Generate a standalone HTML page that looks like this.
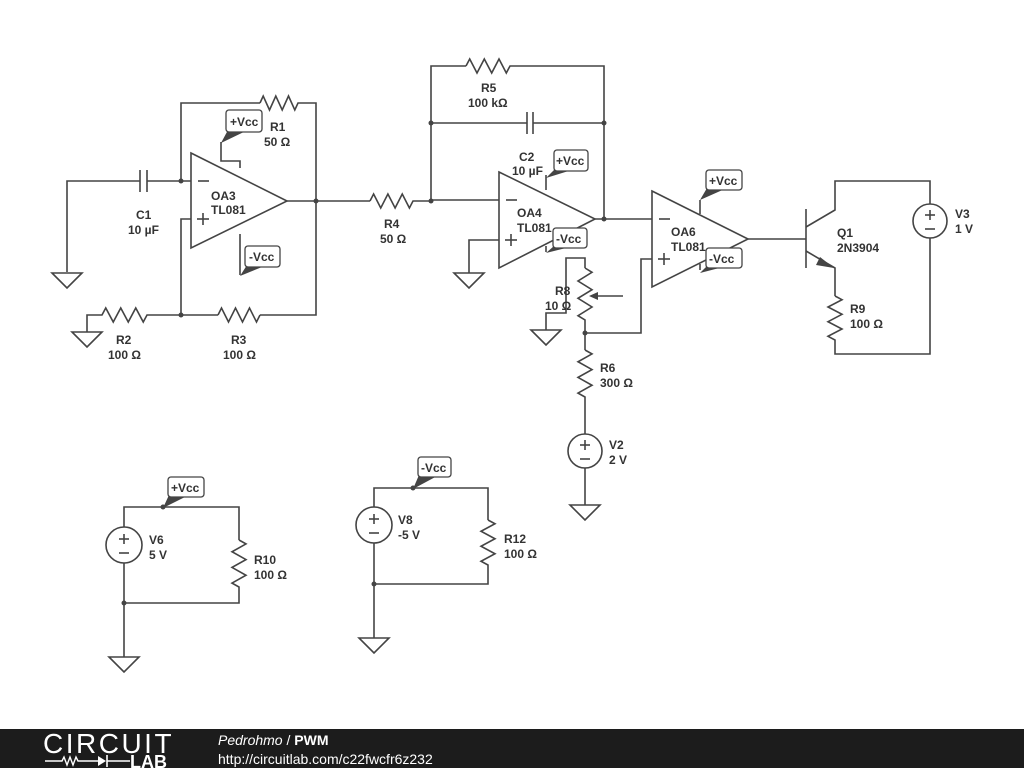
<!DOCTYPE html>
<html><head><meta charset="utf-8"><style>
html,body{margin:0;padding:0;background:#fff;width:1024px;height:768px;overflow:hidden}
svg{display:block}
text{font-family:"Liberation Sans",sans-serif;font-size:12px;font-weight:bold;fill:#333}
.w{fill:none;stroke:#444;stroke-width:1.6}
.d{fill:#444}
.lb rect{fill:#fff;stroke:#444;stroke-width:1.3}
</style></head><body>
<svg width="1024" height="768" viewBox="0 0 1024 768">
<!-- OA3 section -->
<g class="w">
<polyline points="67,272 67,181 140,181"/><line x1="140" y1="170" x2="140" y2="192"/><line x1="147" y1="170" x2="147" y2="192"/>
<polyline points="147,181 191,181"/>
<polyline points="181,181 181,103 260,103"/>
<polyline points="260,103 263.2,96 269.5,110 275.8,96 282.2,110 288.5,96 294.8,110 298,103 316,103 316,315 260,315"/>
<polygon points="191,153 287,201 191,248"/>
<polyline points="287,201 370,201"/>
<polyline points="191,219 181,219 181,315 218,315"/>
<polyline points="218,315 221.5,308 228.5,322 235.5,308 242.5,322 249.5,308 256.5,322 260,315"/>
<polyline points="181,315 147,315 143.25,322 135.75,308 128.25,322 120.75,308 113.25,322 105.75,308 102,315 87,315 87,332"/>
<polyline points="221,142 221,161 240,161 240,168"/>
<polyline points="240,234 240,275"/>
<polygon points="52,273 82,273 67,288"/><polygon points="72,332 102,332 87,347"/>
<line x1="198" y1="181" x2="209" y2="181"/><line x1="197" y1="219" x2="209" y2="219"/><line x1="203" y1="213" x2="203" y2="225"/>
</g>
<g class="d"><circle cx="181" cy="181" r="2.5"/><circle cx="181" cy="315" r="2.5"/><circle cx="316" cy="201" r="2.5"/></g>

<!-- OA4 section -->
<g class="w">
<polyline points="370,201 373.6,194 380.75,208 387.9,194 395.1,208 402.25,194 409.4,208 413,201 431,201"/>
<polyline points="431,200 499,200"/>
<polyline points="431,201 431,66 466,66"/>
<polyline points="466,66 469.7,59 477,73 484.3,59 491.7,73 499,59 506.3,73 510,66 604,66 604,219"/>
<polyline points="431,123 527,123"/><polyline points="533,123 604,123"/>
<line x1="527" y1="112" x2="527" y2="134"/><line x1="533" y1="112" x2="533" y2="134"/>
<polygon points="499,172 595,219 499,268"/>
<polyline points="499,240 469,240 469,273"/><polygon points="454,273 484,273 469,288"/>
<polyline points="546,175 546,190"/>
<polyline points="546,246 546,252"/>
<polyline points="595,219 652,219"/>
<line x1="506" y1="200" x2="517" y2="200"/><line x1="505" y1="240" x2="517" y2="240"/><line x1="511" y1="234" x2="511" y2="246"/>
</g>
<g class="d"><circle cx="431" cy="201" r="2.5"/><circle cx="431" cy="123" r="2.5"/><circle cx="604" cy="123" r="2.5"/><circle cx="604" cy="219" r="2.5"/></g>

<!-- R8 / R6 / V2 -->
<g class="w">
<polyline points="546,330 546,313 566,313 566,258 585,258 585,268"/>
<polyline points="585,268 592,272.3 578,281 592,289.7 578,298.3 592,307 578,315.7 585,320 585,350"/>
<polyline points="585,350 592,353.9 578,361.75 592,369.6 578,377.4 592,385.25 578,393.1 585,397 585,434"/>
<line x1="623" y1="296" x2="592" y2="296"/>
<polyline points="585,333 641,333 641,259 652,259"/>
<circle cx="585" cy="451" r="17"/>
<polyline points="585,468 585,505"/>
<polygon points="531,330 561,330 546,345"/><polygon points="570,505 600,505 585,520"/>
<line x1="585" y1="440" x2="585" y2="450"/><line x1="580" y1="445" x2="590" y2="445"/><line x1="580" y1="459" x2="590" y2="459"/>
</g>
<polygon class="d" points="589,296 598,292 598,300"/>
<circle class="d" cx="585" cy="333" r="2.5"/>

<!-- OA6 -->
<g class="w">
<polygon points="652,191 748,239 652,287"/>
<polyline points="700,200 700,214"/>
<polyline points="700,264 700,270"/>
<line x1="659" y1="219" x2="670" y2="219"/><line x1="658" y1="259" x2="670" y2="259"/><line x1="664" y1="253" x2="664" y2="265"/>
<polyline points="748,239 806,239"/>
<line x1="806" y1="209" x2="806" y2="268"/>
<polyline points="806,227 835,210 835,181 930,181 930,204"/>
<polyline points="806,251 835,268 835,296"/>
<polyline points="835,296 842,299.7 828,307 842,314.3 828,321.7 842,329 828,336.3 835,340 835,354 930,354 930,238"/>
<circle cx="930" cy="221" r="17"/>
<line x1="930" y1="210" x2="930" y2="220"/><line x1="925" y1="215" x2="935" y2="215"/><line x1="925" y1="229" x2="935" y2="229"/>
</g>
<polygon class="d" points="834,268 820,257 816,265"/>

<!-- V6 / V8 -->
<g class="w">
<circle cx="124" cy="545" r="18"/>
<polyline points="124,527 124,507 239,507 239,540"/>
<polyline points="239,540 246,543.9 232,551.75 246,559.6 232,567.4 246,575.25 232,583.1 239,587 239,603 124,603"/>
<polyline points="124,563 124,657"/><polygon points="109,657 139,657 124,672"/>
<line x1="124" y1="534" x2="124" y2="544"/><line x1="119" y1="539" x2="129" y2="539"/><line x1="119" y1="553" x2="129" y2="553"/>
<circle cx="374" cy="525" r="18"/>
<polyline points="374,507 374,488 488,488 488,520"/>
<polyline points="488,520 495,523.75 481,531.25 495,538.75 481,546.25 495,553.75 481,561.25 488,565 488,584 374,584"/>
<polyline points="374,543 374,638"/><polygon points="359,638 389,638 374,653"/>
<line x1="374" y1="514" x2="374" y2="524"/><line x1="369" y1="519" x2="379" y2="519"/><line x1="369" y1="533" x2="379" y2="533"/>
</g>
<g class="d"><circle cx="124" cy="603" r="2.5"/><circle cx="163" cy="507" r="2.5"/><circle cx="374" cy="584" r="2.5"/><circle cx="413" cy="488" r="2.5"/></g>

<!-- label boxes -->
<g class="lb">
<polygon class="d" points="228,130 248,130 221,143"/><rect x="226" y="110" width="36" height="22" rx="3"/>
<polygon class="d" points="247,265 267,265 240,276"/><rect x="245" y="246" width="35" height="21" rx="3"/>
<polygon class="d" points="555,169 575,169 546,178"/><rect x="554" y="150" width="34" height="21" rx="3"/>
<polygon class="d" points="554,246 574,246 546,253"/><rect x="553" y="228" width="34" height="20" rx="3"/>
<polygon class="d" points="707,188 727,188 700,200"/><rect x="706" y="170" width="36" height="20" rx="3"/>
<polygon class="d" points="707,266 727,266 700,273"/><rect x="706" y="248" width="36" height="20" rx="3"/>
<polygon class="d" points="169,495 189,495 163,508"/><rect x="168" y="477" width="36" height="20" rx="3"/>
<polygon class="d" points="419,475 439,475 413,489"/><rect x="418" y="457" width="33" height="20" rx="3"/>
</g>
<text x="230" y="126">+Vcc</text><text x="249" y="261">-Vcc</text>
<text x="556" y="165">+Vcc</text><text x="556" y="243">-Vcc</text>
<text x="709" y="185">+Vcc</text><text x="709" y="263">-Vcc</text>
<text x="171" y="492">+Vcc</text><text x="421" y="472">-Vcc</text>

<!-- component labels -->
<text x="270" y="131">R1</text><text x="264" y="146">50 Ω</text>
<text x="211" y="200">OA3</text><text x="211" y="214">TL081</text>
<text x="136" y="219">C1</text><text x="128" y="234">10 µF</text>
<text x="116" y="344">R2</text><text x="108" y="359">100 Ω</text>
<text x="231" y="344">R3</text><text x="223" y="359">100 Ω</text>
<text x="384" y="228">R4</text><text x="380" y="243">50 Ω</text>
<text x="481" y="92">R5</text><text x="468" y="107">100 kΩ</text>
<text x="519" y="161">C2</text><text x="512" y="175">10 µF</text>
<text x="517" y="217">OA4</text><text x="517" y="232">TL081</text>
<text x="671" y="236">OA6</text><text x="671" y="251">TL081</text>
<text x="555" y="295">R8</text><text x="545" y="310">10 Ω</text>
<text x="600" y="372">R6</text><text x="600" y="387">300 Ω</text>
<text x="609" y="449">V2</text><text x="609" y="464">2 V</text>
<text x="837" y="237">Q1</text><text x="837" y="252">2N3904</text>
<text x="850" y="313">R9</text><text x="850" y="328">100 Ω</text>
<text x="955" y="218">V3</text><text x="955" y="233">1 V</text>
<text x="149" y="544">V6</text><text x="149" y="559">5 V</text>
<text x="254" y="564">R10</text><text x="254" y="579">100 Ω</text>
<text x="398" y="524">V8</text><text x="398" y="539">-5 V</text>
<text x="504" y="543">R12</text><text x="504" y="558">100 Ω</text>

<!-- footer -->
<rect x="0" y="729" width="1024" height="39" fill="#1c1c1c"/>
<text x="43" y="753" style="font-size:28px;font-weight:normal;fill:#fff;letter-spacing:2.5px">CIRCUIT</text>
<polyline points="45,761 62,761 64,757 67,765 70,757 73,765 76,757 78,761 98,761" fill="none" stroke="#fff" stroke-width="1.4"/>
<polygon points="98,756 98,766 106,761" fill="#fff"/><line x1="107" y1="755" x2="107" y2="767" stroke="#fff" stroke-width="1.6"/>
<line x1="107" y1="761" x2="130" y2="761" stroke="#fff" stroke-width="1.4"/>
<text x="130" y="768" style="font-size:18px;font-weight:bold;fill:#fff">LAB</text>
<text x="218" y="745" style="font-size:14px;font-weight:normal;fill:#fff"><tspan font-style="italic">Pedrohmo</tspan> / <tspan font-weight="bold">PWM</tspan></text>
<text x="218" y="764" style="font-size:14px;font-weight:normal;fill:#fff">http://circuitlab.com/c22fwcfr6z232</text>
</svg>
</body></html>
